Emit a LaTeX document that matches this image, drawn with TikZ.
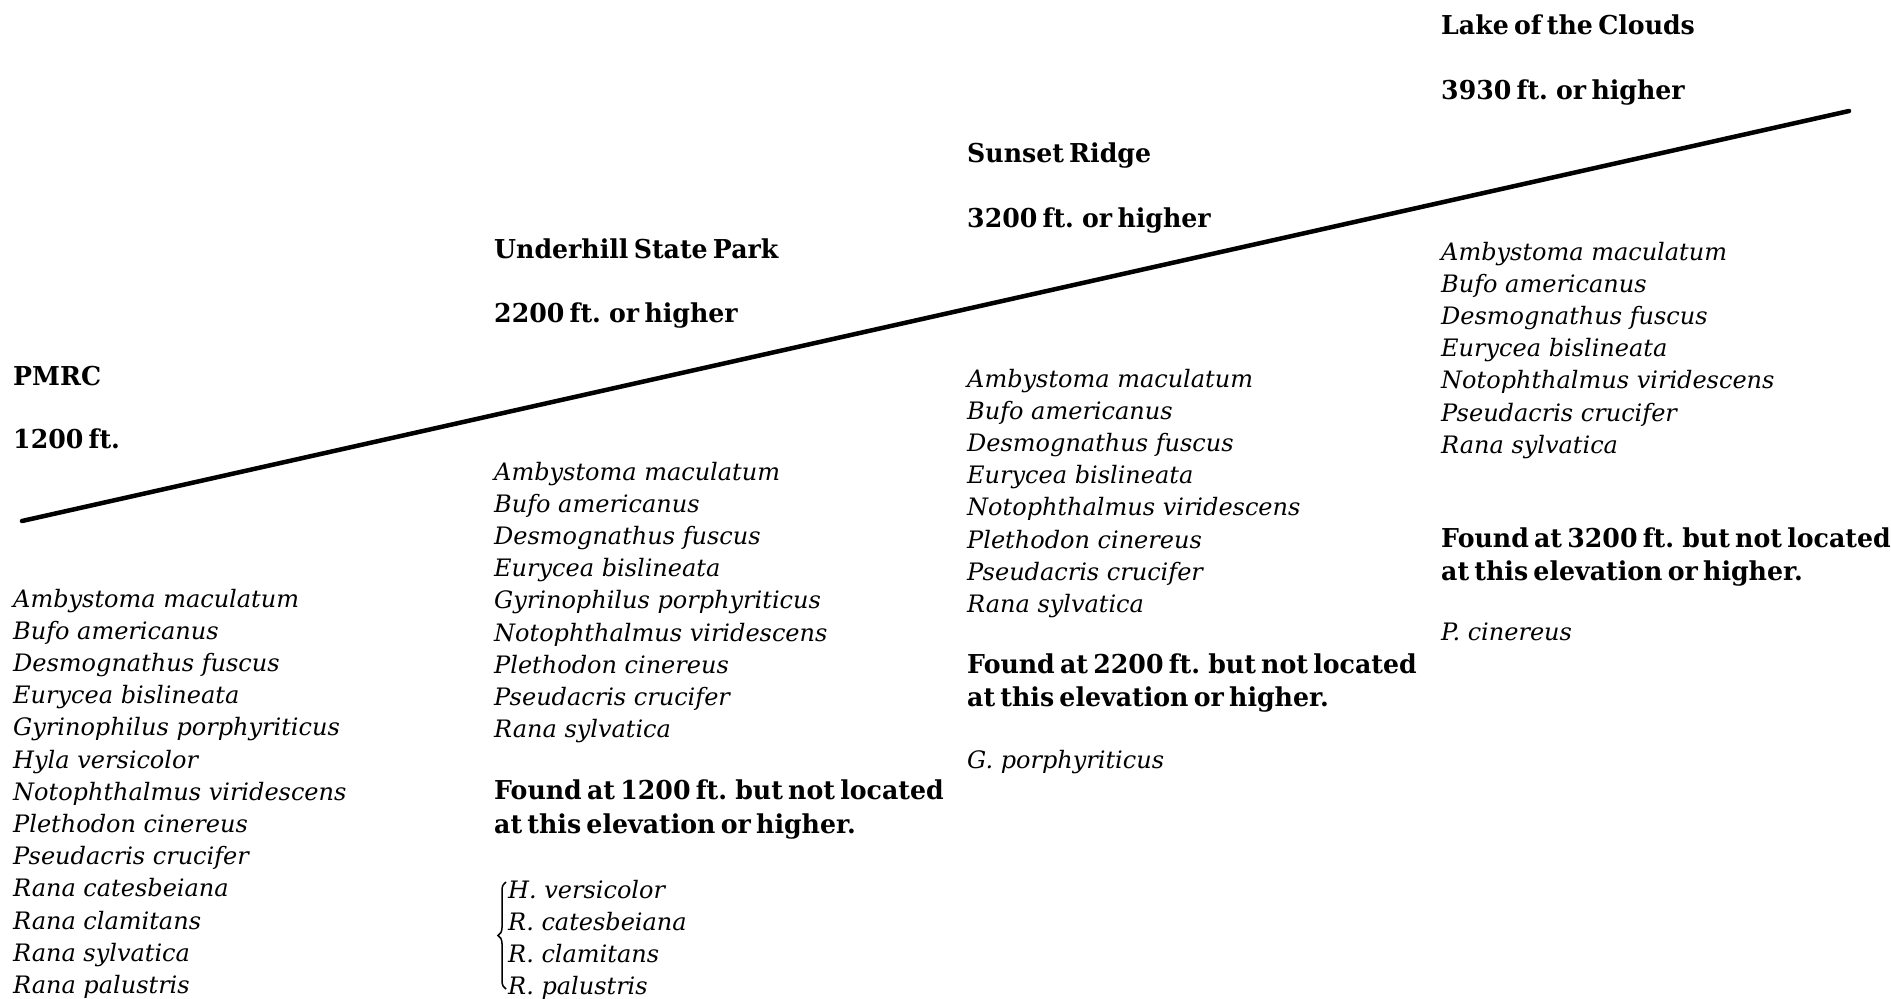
\documentclass[tikz,border=0pt]{standalone}
\usepackage{fontspec}
\setmainfont{DejaVu Serif}
\newfontfamily\hdrfont[FakeStretch=0.97, WordSpace=0.6]{DejaVu Serif}
\usetikzlibrary{decorations.pathreplacing}
\begin{document}
\begin{tikzpicture}[x=1pt,y=-1pt,
  hdr/.style={font=\hdrfont\fontsize{26}{30}\selectfont\bfseries, anchor=base west, inner sep=0pt},
  sp/.style={font=\fontsize{24}{30}\selectfont\itshape, anchor=base west, inner sep=0pt},
  slope/.style={line width=4.5pt, line cap=round},
  bracestyle/.style={line width=1.5pt, decorate, decoration={brace, amplitude=8pt}}]
\useasboundingbox (0,0) rectangle (1891,999);
% slope line
\coordinate (low) at (22,521);
\coordinate (high) at (1849,111);
\draw[slope] (low) -- (high);
% column 1
\node[hdr] (h1) at (13,385) {PMRC};
\node[hdr] (e1) at (13,448) {1200 ft.};
\foreach \t [count=\i] in {Ambystoma maculatum, Bufo americanus, Desmognathus fuscus, Eurycea bislineata, Gyrinophilus porphyriticus, Hyla versicolor, Notophthalmus viridescens, Plethodon cinereus, Pseudacris crucifer, Rana catesbeiana, Rana clamitans, Rana sylvatica, Rana palustris}
  \node[sp] (a\i) at (13,{607+(\i-1)*32.2}) {\t};
% column 2
\node[hdr] (h2) at (494,258) {Underhill State Park};
\node[hdr] (e2) at (494,322) {2200 ft. or higher};
\foreach \t [count=\i] in {Ambystoma maculatum, Bufo americanus, Desmognathus fuscus, Eurycea bislineata, Gyrinophilus porphyriticus, Notophthalmus viridescens, Plethodon cinereus, Pseudacris crucifer, Rana sylvatica}
  \node[sp] (b\i) at (494,{480+(\i-1)*32.2}) {\t};
\node[hdr] (f2a) at (494,799) {Found at 1200 ft. but not located};
\node[hdr] (f2b) at (494,833) {at this elevation or higher.};
\foreach \t [count=\i] in {H. versicolor, R. catesbeiana, R. clamitans, R. palustris}
  \node[sp] (m\i) at (508,{898+(\i-1)*32.2}) {\t};
\coordinate (brb) at (506,989);
\coordinate (brt) at (506,882);
\draw[bracestyle] (brb) -- (brt);
% column 3
\node[hdr] (h3) at (967,162) {Sunset Ridge};
\node[hdr] (e3) at (967,227) {3200 ft. or higher};
\foreach \t [count=\i] in {Ambystoma maculatum, Bufo americanus, Desmognathus fuscus, Eurycea bislineata, Notophthalmus viridescens, Plethodon cinereus, Pseudacris crucifer, Rana sylvatica}
  \node[sp] (c\i) at (967,{387+(\i-1)*32.2}) {\t};
\node[hdr] (f3a) at (967,673) {Found at 2200 ft. but not located};
\node[hdr] (f3b) at (967,706) {at this elevation or higher.};
\node[sp] (g3) at (967,768) {G. porphyriticus};
% column 4
\node[hdr] (h4) at (1441,34) {Lake of the Clouds};
\node[hdr] (e4) at (1441,99) {3930 ft. or higher};
\foreach \t [count=\i] in {Ambystoma maculatum, Bufo americanus, Desmognathus fuscus, Eurycea bislineata, Notophthalmus viridescens, Pseudacris crucifer, Rana sylvatica}
  \node[sp] (d\i) at (1441,{260+(\i-1)*32.2}) {\t};
\node[hdr] (f4a) at (1441,547) {Found at 3200 ft. but not located};
\node[hdr] (f4b) at (1441,580) {at this elevation or higher.};
\node[sp] (p4) at (1441,640) {P. cinereus};
\end{tikzpicture}
\end{document}
